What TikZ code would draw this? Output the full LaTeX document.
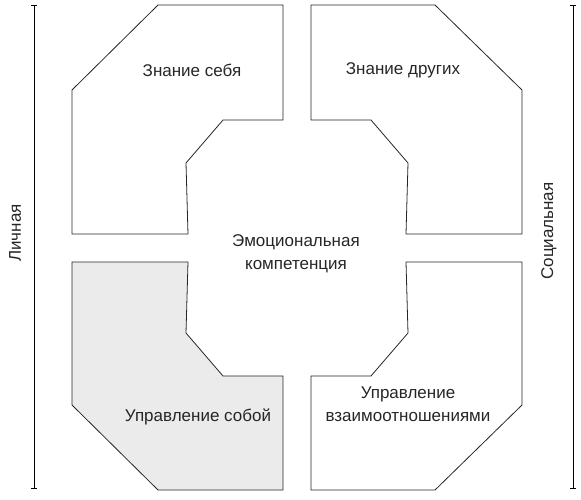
\documentclass[tikz,border=0pt]{standalone}
\usepackage{fontspec}
\setmainfont{Liberation Sans}
\usepackage{xcolor}
\usepackage{tikz}
\usetikzlibrary{arrows.meta}

\definecolor{shade}{HTML}{EBEBEB}

\begin{document}
\begin{tikzpicture}[
  x = 1pt, y = -1pt,
  every node/.style = {font = \fontsize{17}{23}\selectfont, align = center, text = black!85},
  block/.style = {draw = black!85, line width = 0.8pt, line join = miter},
  side/.style = {draw = black, line width = 0.8pt, {Bar[width=6pt]}-{Bar[width=6pt]}}
  ]
  \useasboundingbox (0,0) rectangle (581,499);
  % four blocks round the centre
  \draw[block] (158,5) -- (283,5) -- (283,120) -- (223,120) -- (186,163)
        -- (188,234) -- (72,234) -- (72,90) -- cycle;
  \draw[block] (311,5) -- (435,5) -- (522,90) -- (522,234) -- (406,234)
        -- (408,163) -- (371,120) -- (311,120) -- cycle;
  \draw[block, fill = shade] (72,262) -- (188,262) -- (186,333) -- (223,376)
        -- (283,376) -- (283,490) -- (158,490) -- (72,405) -- cycle;
  \draw[block] (406,262) -- (522,262) -- (522,405) -- (435,490) -- (311,490)
        -- (311,376) -- (371,376) -- (408,333) -- cycle;
  \node (self)   at (192,70)  {Знание себя};
  \node (others) at (403,70)  {Знание других};
  \node (core)   at (296,254) {Эмоциональная\\компетенция};
  \node (manage) at (198,417) {Управление собой};
  \node (relate) at (408,404) {Управление\\взаимоотношениями};
  % side scales
  \draw[side] (34,5) -- (34,489);
  \draw[side] (573,5) -- (573,489);
  \node[rotate = 90] (personal) at (15,233)  {Личная};
  \node[rotate = 90] (social)   at (549,231) {Социальная};
\end{tikzpicture}
\end{document}
